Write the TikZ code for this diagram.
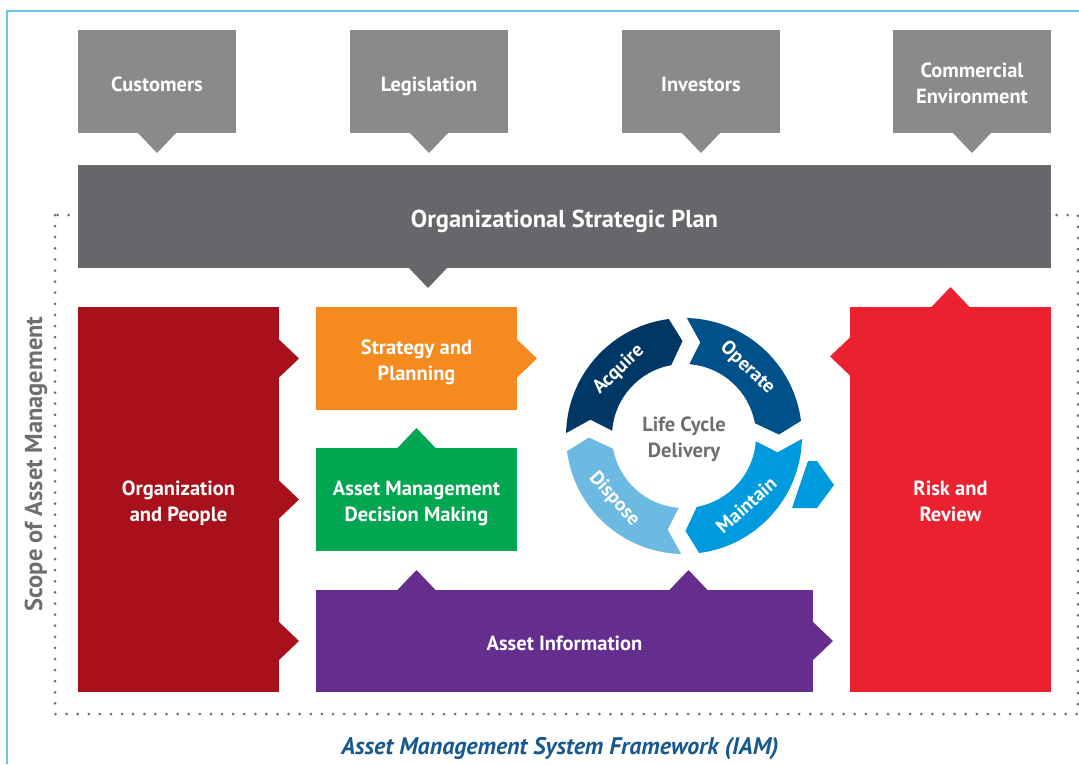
\documentclass[tikz,border=0pt]{standalone}
\usepackage{fontspec}
\setmainfont{PT Sans}
\usetikzlibrary{calc}
\definecolor{topgray}{HTML}{8A8A8C}
\definecolor{plangray}{HTML}{67666B}
\definecolor{txtgray}{HTML}{6D6E71}
\definecolor{framebl}{HTML}{6EC1EA}
\definecolor{orgred}{HTML}{A8111C}
\definecolor{stratorange}{HTML}{F58A1F}
\definecolor{amgreen}{HTML}{00A650}
\definecolor{infopurple}{HTML}{652D8E}
\definecolor{riskred}{HTML}{EC2130}
\definecolor{acqblue}{HTML}{003865}
\definecolor{opblue}{HTML}{00508A}
\definecolor{mntblue}{HTML}{009ADE}
\definecolor{dspblue}{HTML}{6CB9E1}
\definecolor{titleblue}{HTML}{17598E}
% pointers on the box edges
\newcommand{\ptrD}[2]{\fill[#2] ($(#1)+(-20,-1)$) -- ($(#1)+(0,20)$) -- ($(#1)+(20,-1)$) -- cycle;}
\newcommand{\ptrU}[2]{\fill[#2] ($(#1)+(-20,1)$) -- ($(#1)+(0,-20)$) -- ($(#1)+(20,1)$) -- cycle;}
\newcommand{\ptrR}[2]{\fill[#2] ($(#1)+(-1,-20)$) -- ($(#1)+(20,0)$) -- ($(#1)+(-1,20)$) -- cycle;}
\newcommand{\ptrL}[2]{\fill[#2] ($(#1)+(1,-20)$) -- ($(#1)+(-20,0)$) -- ($(#1)+(1,20)$) -- cycle;}
% one arc of the life cycle ring: start angle, colour
\newcommand{\lcseg}[2]{%
  \pgfmathsetmacro{\segS}{#1}\pgfmathsetmacro{\segE}{#1-90}
  \fill[#2] ({\segS-4.4}:118) arc[start angle=\segS-4.4, end angle=\segE+4.4, radius=118]
    -- ({\segE+5.4-7.5}:95) -- ({\segE+7.2}:72)
    arc[start angle=\segE+7.2, end angle=\segS-7.2, radius=72]
    -- ({\segS-5.4-7.5}:95) -- cycle;}
\begin{document}
\begin{tikzpicture}[x=1pt, y=-1pt,
  box/.style={fill=#1, text=white, inner sep=0pt, outer sep=0pt, align=center,
    font=\bfseries\fontsize{20.5}{26}\selectfont},
  oneline/.style={text height=19pt, text depth=0pt},
  twoline/.style={text height=43pt, text depth=0pt},
  seglabel/.style={text=white, font=\bfseries\fontsize{19.5}{20}\selectfont}]
\useasboundingbox (0,0) rectangle (1079,764);
\draw[framebl, line width=1.5pt] (7,764) -- (7,11) -- (1079,11);
\draw[txtgray, line width=3pt, line cap=round, dash pattern=on 0pt off 11.1pt] (55,215) rectangle (1078,714);
\node[rotate=90, text=txtgray, font=\bfseries\fontsize{24.5}{26}\selectfont] (scope) at (36,464) {Scope of Asset Management};

% outside influences
\node[box=topgray, oneline, minimum width=158, minimum height=103] (cust) at (157,81.5) {Customers};
\node[box=topgray, oneline, minimum width=158, minimum height=103] (legis) at (429,81.5) {Legislation};
\node[box=topgray, oneline, minimum width=158, minimum height=103] (invest) at (701,81.5) {Investors};
\node[box=topgray, twoline, minimum width=158, minimum height=103] (comm) at (972,81.5) {Commercial\\Environment};
\ptrD{cust.south}{topgray}
\ptrD{legis.south}{topgray}
\ptrD{invest.south}{topgray}
\ptrD{comm.south}{topgray}

\node[box=plangray, minimum width=973, minimum height=103, font=\bfseries\fontsize{24.5}{26}\selectfont, text height=22pt, text depth=0pt] (plan) at (564.5,216.5) {Organizational Strategic Plan};
\ptrD{$(plan.south west)+(350,0)$}{plangray}

% the system
\node[box=orgred, twoline, minimum width=201, minimum height=385] (org) at (178.5,499.5) {Organization\\and People};
\node[box=stratorange, twoline, minimum width=201, minimum height=103] (strat) at (416.5,358.5) {Strategy and\\Planning};
\node[box=amgreen, twoline, minimum width=201, minimum height=103] (amdm) at (416.5,499.5) {Asset Management\\Decision Making};
\node[box=infopurple, oneline, minimum width=497, minimum height=102] (info) at (564.5,641) {Asset Information};
\node[box=riskred, twoline, minimum width=201, minimum height=385] (risk) at (950.5,499.5) {Risk and\\Review};

\ptrR{org.east |- strat.east}{orgred}
\ptrR{org.east}{orgred}
\ptrR{org.east |- info.east}{orgred}
\ptrR{strat.east}{stratorange}
\ptrU{amdm.north}{amgreen}
\ptrU{amdm.south |- info.north}{infopurple}
\ptrU{$(info.north)+(124,0)$}{infopurple}
\ptrR{info.east}{infopurple}
\ptrU{risk.north}{riskred}
\ptrL{$(risk.west |- strat.west)+(0,-2)$}{riskred}

% life cycle delivery
\begin{scope}[shift={(684,436)}, yscale=-1]
\lcseg{183}{acqblue}
\lcseg{93}{opblue}
\lcseg{3}{mntblue}
\lcseg{-87}{dspblue}
\node[seglabel, rotate=44] (acq) at (134.5:93) {Acquire};
\node[seglabel, rotate=-43] (op) at (47:93) {Operate};
\node[seglabel, rotate=42] (mnt) at (-48:93) {Maintain};
\node[seglabel, rotate=-48] (dsp) at (222:94) {Dispose};
\node[twoline, text=txtgray, align=center, inner sep=0pt, font=\bfseries\fontsize{20.5}{26}\selectfont] (lcd) at (0,0) {Life Cycle\\Delivery};
\end{scope}
\fill[mntblue] (808,461) -- (817,461) -- (834,485) -- (817,508) -- (792,508) -- cycle;

\node[text=titleblue, font=\bfseries\itshape\fontsize{24}{26}\selectfont] (title) at (560,748.5) {Asset Management System Framework (IAM)};
\end{tikzpicture}
\end{document}
